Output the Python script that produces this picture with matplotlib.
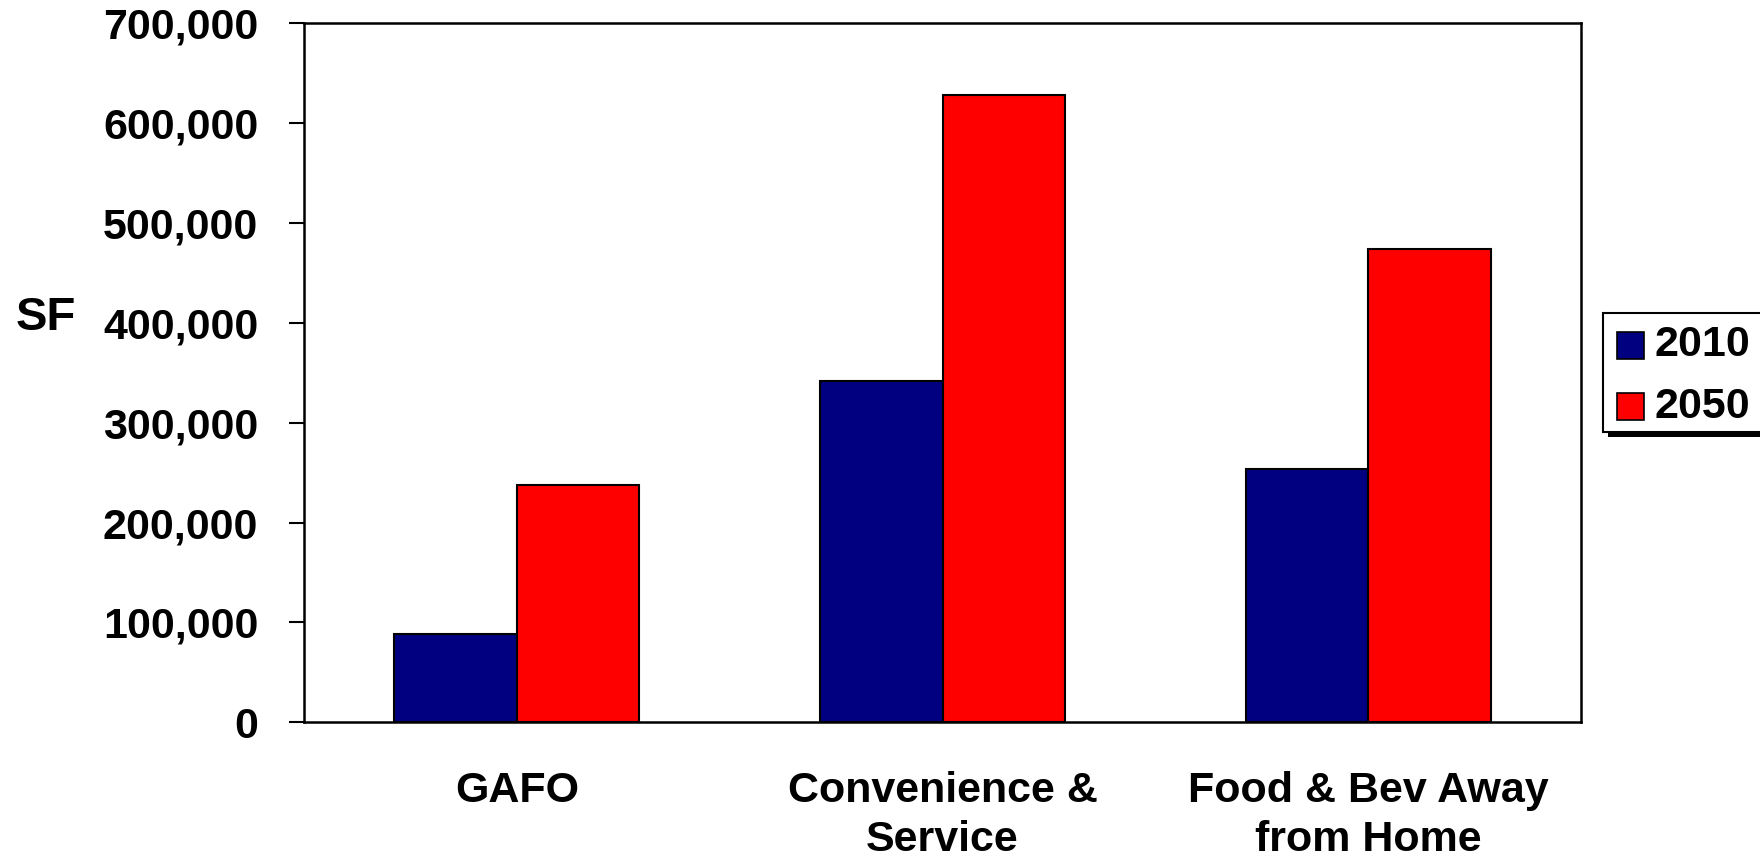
import matplotlib
matplotlib.use("Agg")
import matplotlib.pyplot as plt
from matplotlib.patches import Rectangle
from matplotlib.ticker import FuncFormatter
import numpy as np

# Retail space demand by category (square feet)
categories = ["GAFO", "Convenience &\nService", "Food & Bev Away\nfrom Home"]
series_names = ["2010", "2050"]
values_2010 = [88000, 342000, 254000]
values_2050 = [238000, 628000, 474000]
series_colors = ["#000080", "#FF0000"]
y_ticks = [0, 100000, 200000, 300000, 400000, 500000, 600000, 700000]

plt.rcParams['font.family'] = ['Liberation Sans', 'DejaVu Sans']
plt.rcParams['font.weight'] = 'bold'

W, H = 1760, 859
fig = plt.figure(figsize=(W / 100, H / 100), dpi=100)
fig.patch.set_facecolor("white")


def fx(px):
    return px / W


def fy(py):
    return 1 - py / H


ax = fig.add_axes([fx(304), fy(722.3), 1277 / W, 699 / H])

x = np.arange(len(categories))
width = 0.288
series = [values_2010, values_2050]
offsets = [-width / 2, width / 2]
for vals, off, col, name in zip(series, offsets, series_colors, series_names):
    ax.bar(x + off, vals, width, color=col, edgecolor="black",
           linewidth=1.5, label=name, zorder=3)

ax.set_xlim(-0.5, len(categories) - 0.5)
ax.set_ylim(y_ticks[0], y_ticks[-1])
ax.set_yticks(y_ticks)
ax.yaxis.set_major_formatter(FuncFormatter(lambda v, p: f"{int(v):,}"))
ax.set_xticks(x)
ax.set_xticklabels(categories, fontsize=31, fontweight="bold", linespacing=1.3)
ax.tick_params(axis="x", length=0, pad=35)
ax.tick_params(axis="y", length=11, width=1.5, direction="out", pad=22,
               labelsize=31)
for lbl in ax.get_yticklabels():
    lbl.set_fontweight("bold")
for s in ax.spines.values():
    s.set_linewidth(1.8)

# Axis title
fig.text(fx(16), fy(318), "SF", fontsize=34, fontweight="bold",
         ha="left", va="center")

# Legend box with drop shadow
lx0, ly0, lx1, ly1 = 1602.7, 312.7, 1765, 431.7
fig.patches.append(Rectangle((fx(lx0 + 5), fy(ly1 + 5.5)), (lx1 - lx0) / W,
                             (ly1 - ly0) / H, transform=fig.transFigure,
                             facecolor="black", edgecolor="none", zorder=1))
fig.patches.append(Rectangle((fx(lx0), fy(ly1)), (lx1 - lx0) / W,
                             (ly1 - ly0) / H, transform=fig.transFigure,
                             facecolor="white", edgecolor="black",
                             linewidth=1.5, zorder=2))
sq = 26.5
for i, (name, col) in enumerate(zip(series_names, series_colors)):
    cy = 345.5 + i * 61
    fig.patches.append(Rectangle((fx(1617), fy(cy + sq / 2)), sq / W, sq / H,
                                 transform=fig.transFigure, facecolor=col,
                                 edgecolor="black", linewidth=1.2, zorder=3))
    fig.text(fx(1654), fy(cy), name, fontsize=31, fontweight="bold",
             ha="left", va="center", zorder=4)

fig.savefig("out.png", dpi=100)
